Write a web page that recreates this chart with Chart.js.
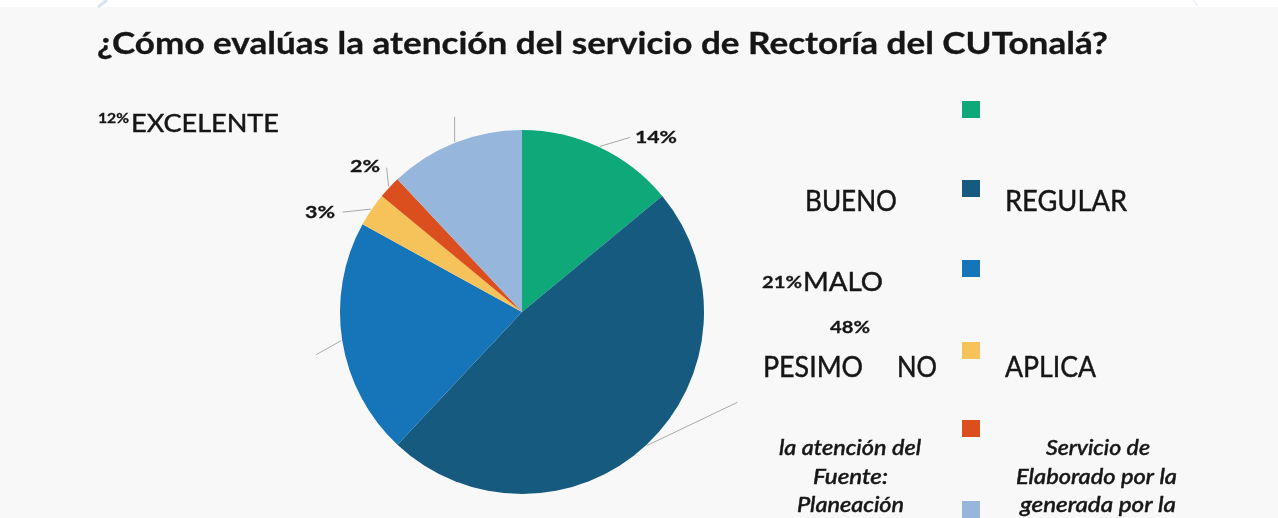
<!DOCTYPE html>
<html>
<head>
<meta charset="utf-8">
<script src="https://cdn.jsdelivr.net/npm/chart.js@4.4.1/dist/chart.umd.min.js"></script>
<style>
  html, body { margin: 0; padding: 0; background: #ffffff; }
  #wrap { width: 1278px; height: 518px; }
</style>
</head>
<body>
<div id="wrap"><canvas id="c" width="1278" height="518"></canvas></div>
<script>
// ---- data ----
const categories = ['EXCELENTE', 'BUENO', 'REGULAR', 'MALO', 'PESIMO', 'NO APLICA'];
const values = [14, 48, 21, 3, 2, 12];
const sliceLabels = ['14%', '48%', '21%', '3%', '2%', '12%'];
const colors = ['#0fa878', '#165a80', '#1674b8', '#f5c35a', '#da4f1d', '#97b6dc'];
const titleText = '¿Cómo evalúas la atención del servicio de Rectoría del CUTonalá?';

// ---- layout / styling (not data) ----
const leaders = [
  { dx: 30, dy: -9, label: true, lx: 635, ly: 143, lw: 42 },
  { dx: 90, dy: -43, label: false },
  { dx: -25, dy: 14, label: false },
  { dx: -28, dy: 3, label: true, lx: 305, ly: 218, lw: 30 },
  { dx: -2, dy: -19, label: true, lx: 350, ly: 172, lw: 30 },
  { dx: 0, dy: -25, label: false }
];
const squareX = 962, squareW = 18, squareH = 17;
const squareY = [101, 180, 260, 342, 420, 501];

// free texts: [text, left x, baseline y, size, font style, target width]
const texts = [
  [titleText, 97, 54, 29.5, 'bold', 1011],
  ['12%', 98, 123, 13, 'bold', 31],
  [categories[0], 131, 132, 24.7, 'normal', 148],
  [categories[1], 805, 211, 28.5, 'normal', 92],
  [categories[2], 1005, 211, 28.5, 'normal', 122],
  ['21%', 762, 288, 17, 'bold', 40],
  [categories[3], 803, 291, 26.5, 'normal', 80],
  ['48%', 830, 333, 17, 'bold', 40],
  [categories[4], 763, 377, 28, 'normal', 100],
  ['NO', 897, 377, 28, 'normal', 40],
  ['APLICA', 1005, 377, 28, 'normal', 91],
  ['la atención del', 779, 455, 21, 'italic', 142],
  ['Fuente:', 813, 484, 21, 'italic', 75],
  ['Planeación', 797, 512, 21, 'italic', 107],
  ['Servicio de', 1046, 455, 21, 'italic', 104],
  ['Elaborado por la', 1016, 484, 21, 'italic', 161],
  ['generada por la', 1020, 512, 21, 'italic', 156]
];

function fitText(ctx, text, x, y, size, style, w) {
  let f;
  if (style === 'bold') f = `bold ${size}px Lato`;
  else if (style === 'italic') f = `italic 500 ${size}px Lato`;
  else f = `normal ${size}px Lato`;
  ctx.font = f;
  const m = ctx.measureText(text).width;
  const sx = w ? w / m : 1;
  ctx.save();
  ctx.translate(x, y);
  ctx.scale(sx, 1);
  ctx.textAlign = 'left';
  ctx.textBaseline = 'alphabetic';
  ctx.fillStyle = '#161616';
  ctx.fillText(text, 0, 0);
  ctx.strokeStyle = '#161616';
  ctx.lineWidth = style === 'bold' ? 0.3 : 0.45;
  ctx.strokeText(text, 0, 0);
  ctx.restore();
}

const bgPlugin = {
  id: 'bg',
  beforeDraw(chart) {
    const ctx = chart.ctx;
    ctx.save();
    ctx.fillStyle = '#ffffff';
    ctx.fillRect(0, 0, chart.width, chart.height);
    ctx.fillStyle = '#f8f8f8';
    ctx.fillRect(0, 7, chart.width, chart.height - 7);
    ctx.strokeStyle = '#d6e6f6';
    ctx.lineWidth = 3;
    ctx.beginPath(); ctx.moveTo(107, 0); ctx.lineTo(98, 7); ctx.stroke();
    ctx.lineWidth = 1;
    ctx.beginPath(); ctx.moveTo(1193, 0); ctx.lineTo(1198, 6); ctx.stroke();
    ctx.restore();
  }
};

const decoPlugin = {
  id: 'deco',
  afterDatasetsDraw(chart) {
    const ctx = chart.ctx;
    const meta = chart.getDatasetMeta(0);
    ctx.save();
    meta.data.forEach((arc, i) => {
      const p = arc.getProps(['x', 'y', 'startAngle', 'endAngle', 'outerRadius'], true);
      const mid = (p.startAngle + p.endAngle) / 2;
      const sx = p.x + Math.cos(mid) * (p.outerRadius + 1);
      const sy = p.y + Math.sin(mid) * (p.outerRadius + 1);
      const L = leaders[i];
      ctx.strokeStyle = '#a9a9a9';
      ctx.lineWidth = 1;
      ctx.beginPath();
      ctx.moveTo(sx, sy);
      ctx.lineTo(sx + L.dx, sy + L.dy);
      ctx.stroke();
      if (L.label) fitText(ctx, sliceLabels[i], L.lx, L.ly, 17, 'bold', L.lw);
      ctx.fillStyle = colors[i];
      ctx.fillRect(squareX, squareY[i], squareW, squareH);
    });
    texts.forEach(t => fitText(ctx, t[0], t[1], t[2], t[3], t[4], t[5]));
    ctx.restore();
  }
};

new Chart(document.getElementById('c'), {
  type: 'pie',
  data: {
    labels: categories,
    datasets: [{
      data: values,
      backgroundColor: colors,
      borderWidth: 0
    }]
  },
  options: {
    responsive: false,
    devicePixelRatio: 1,
    animation: false,
    layout: { padding: { top: 130, left: 340, right: 574, bottom: 24 } },
    plugins: {
      legend: { display: false },
      tooltip: { enabled: false },
      title: { display: false }
    }
  },
  plugins: [bgPlugin, decoPlugin]
});
</script>
</body>
</html>
